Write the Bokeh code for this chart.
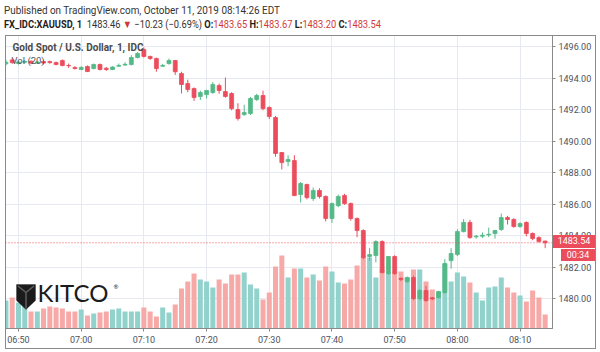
from bokeh.plotting import figure
from bokeh.layouts import column
from bokeh.models import (Range1d, FixedTicker, NumeralTickFormatter, Span, Label, Div,
                          PolyAnnotation, ColumnDataSource)
from bokeh.embed import file_html
from bokeh.resources import INLINE

# ---------------- data (1-minute candles, 06:48 .. 08:14) ----------------
start_minute = 6 * 60 + 48

open_ = [1494.90, 1495.15, 1494.92, 1495.00, 1495.06, 1494.95, 1495.05, 1495.05, 1494.98, 1495.11,
         1494.80, 1494.67, 1494.54, 1494.73, 1494.60, 1494.86, 1494.62, 1494.54, 1494.75, 1494.82,
         1494.86, 1495.30, 1495.81, 1495.37, 1495.24, 1494.75, 1494.92, 1495.11, 1494.29, 1493.65,
         1493.33, 1492.83, 1492.95, 1493.08, 1493.52, 1493.14, 1493.02, 1492.00, 1491.68, 1491.75,
         1492.63, 1492.89, 1492.13, 1491.49, 1489.27, 1488.70, 1488.76, 1486.60, 1487.24, 1486.35,
         1486.86, 1486.48, 1485.08, 1485.90, 1486.54, 1486.03, 1485.08, 1484.32, 1482.67, 1482.73,
         1483.62, 1481.59, 1482.67, 1481.28, 1481.08, 1481.33, 1480.00, 1480.51, 1480.05, 1480.06,
         1480.38, 1482.41, 1482.79, 1484.25, 1484.83, 1483.92, 1483.96, 1484.04, 1484.13, 1484.38,
         1485.14, 1485.02, 1484.57, 1484.83, 1484.13, 1483.87, 1483.65]
high = [1495.15, 1495.25, 1495.08, 1495.12, 1495.12, 1495.08, 1495.12, 1495.10, 1495.05, 1495.18,
        1494.92, 1494.75, 1494.75, 1494.80, 1494.92, 1494.92, 1494.70, 1494.75, 1494.92, 1495.00,
        1495.45, 1495.65, 1495.95, 1495.42, 1495.30, 1494.90, 1495.24, 1495.15, 1494.40, 1493.90,
        1493.40, 1493.20, 1493.25, 1493.75, 1493.65, 1494.03, 1493.10, 1492.40, 1492.30, 1492.80,
        1493.00, 1493.20, 1492.20, 1491.60, 1489.30, 1489.10, 1489.10, 1487.40, 1487.30, 1487.05,
        1487.00, 1486.55, 1486.10, 1486.60, 1486.65, 1486.10, 1485.15, 1484.40, 1483.20, 1483.70,
        1483.70, 1482.70, 1482.75, 1481.35, 1481.40, 1481.45, 1480.60, 1480.80, 1480.10, 1480.50,
        1482.50, 1483.20, 1484.40, 1485.05, 1485.00, 1484.05, 1484.20, 1484.50, 1484.35, 1485.40,
        1485.25, 1485.10, 1484.85, 1484.90, 1484.20, 1483.95, 1483.67]
low = [1494.80, 1494.90, 1494.85, 1494.92, 1494.88, 1494.90, 1494.86, 1494.90, 1494.80, 1494.75,
       1494.65, 1494.55, 1494.50, 1494.38, 1494.55, 1494.48, 1494.45, 1494.50, 1494.70, 1494.78,
       1494.80, 1495.25, 1495.30, 1495.15, 1494.40, 1494.70, 1494.85, 1494.20, 1493.02, 1493.10,
       1492.55, 1492.60, 1492.70, 1493.00, 1493.00, 1492.75, 1491.95, 1491.30, 1491.60, 1491.65,
       1492.55, 1491.95, 1491.40, 1489.00, 1488.20, 1488.40, 1486.50, 1486.10, 1486.30, 1486.20,
       1486.35, 1484.90, 1484.80, 1485.80, 1485.95, 1484.95, 1483.90, 1482.50, 1482.40, 1482.30,
       1481.60, 1481.50, 1481.50, 1481.10, 1481.00, 1479.90, 1479.90, 1479.80, 1479.90, 1480.00,
       1480.30, 1481.90, 1482.70, 1484.20, 1483.80, 1483.80, 1483.85, 1483.90, 1483.80, 1484.30,
       1484.70, 1484.50, 1484.50, 1483.95, 1483.70, 1483.55, 1483.20]
close = [1495.00, 1494.98, 1495.02, 1495.06, 1494.95, 1495.02, 1494.95, 1494.98, 1494.86, 1494.79,
         1494.78, 1494.60, 1494.67, 1494.41, 1494.86, 1494.54, 1494.54, 1494.70, 1494.80, 1494.87,
         1495.30, 1495.56, 1495.37, 1495.24, 1494.60, 1494.80, 1495.11, 1494.40, 1493.59, 1493.27,
         1492.76, 1493.08, 1493.21, 1493.59, 1493.21, 1492.83, 1492.06, 1491.43, 1491.81, 1492.70,
         1492.89, 1492.06, 1491.56, 1489.21, 1488.63, 1488.83, 1486.54, 1487.30, 1486.41, 1486.86,
         1486.48, 1485.08, 1486.03, 1486.48, 1486.03, 1485.08, 1484.32, 1482.60, 1482.79, 1483.62,
         1481.65, 1482.67, 1481.59, 1481.21, 1481.33, 1480.00, 1480.51, 1479.87, 1479.98, 1480.44,
         1482.22, 1482.86, 1484.25, 1484.83, 1483.87, 1483.96, 1484.02, 1484.08, 1484.32, 1485.14,
         1485.02, 1484.57, 1484.76, 1484.13, 1483.81, 1483.62, 1483.54]
volume = [140, 155, 130, 115, 85, 85, 100, 110, 105, 100,
          85, 85, 95, 65, 75, 80, 85, 95, 100, 85,
          85, 85, 105, 85, 60, 105, 80, 120, 200, 235,
          275, 245, 235, 205, 245, 225, 270, 270, 280, 220,
          200, 145, 180, 310, 365, 255, 300, 300, 255, 270,
          240, 310, 285, 230, 225, 245, 315, 360, 355, 255,
          295, 280, 280, 285, 255, 295, 295, 235, 195, 185,
          325, 235, 280, 260, 230, 180, 140, 205, 210, 255,
          205, 180, 165, 135, 190, 155, 70]

price_ticks = [1480, 1482, 1484, 1486, 1488, 1490, 1492, 1494, 1496]
time_ticks = [410, 420, 430, 440, 450, 460, 470, 480, 490]
time_labels = ["06:50", "07:00", "07:10", "07:20", "07:30", "07:40", "07:50", "08:00", "08:10"]
last_price_text = "1483.54"
countdown_text = "00:34"

# ---------------- styling ----------------
UP, DOWN = "#53b987", "#eb4d5c"
VUP, VDOWN = "#92d2cc", "#f7a9a7"
FONT = "Roboto"
HDR_H = 34                          # header strip height (page px)
FL, FR, FT, FB = 5, 552, 35, 328    # pane edges in page pixels

minute = [start_minute + i for i in range(len(close))]
is_up = [c >= o for o, c in zip(open_, close)]
src = ColumnDataSource(dict(
    x=minute, high=high, low=low, volume=volume,
    top=[max(o, c) for o, c in zip(open_, close)],
    bottom=[min(o, c) for o, c in zip(open_, close)],
    color=[UP if u else DOWN for u in is_up],
    vcolor=[VUP if u else VDOWN for u in is_up],
))

p = figure(width=600, height=352 - HDR_H, output_backend="svg", toolbar_location=None,
           y_axis_location="right",
           x_range=Range1d(407.93, 495.17), y_range=Range1d(1478.10, 1496.70),
           min_border_left=FL, min_border_right=600 - FR, min_border_top=FT - HDR_H,
           min_border_bottom=352 - FB)
p.extra_y_ranges = {"vol": Range1d(0, 1465)}
p.background_fill_color = "white"
p.border_fill_color = "white"
p.outline_line_color = "#8a8a8a"

p.vbar(x="x", top="volume", bottom=0, width=0.8, fill_color="vcolor", line_color=None,
       y_range_name="vol", source=src)
p.segment(x0="x", y0="high", x1="x", y1="low", line_color="color", line_width=1, source=src)
p.vbar(x="x", top="top", bottom="bottom", width=0.62, fill_color="color", line_color="color",
       line_width=0.8, source=src)

p.add_layout(Span(location=close[-1], dimension="width", line_color="#eb4d5c",
                  line_dash="1 2", line_width=1))

# axes
xa = p.xaxis[0]
xa.ticker = FixedTicker(ticks=time_ticks)
xa.major_label_overrides = {t: l for t, l in zip(time_ticks, time_labels)}
ya = p.yaxis[0]
ya.ticker = FixedTicker(ticks=price_ticks)
ya.formatter = NumeralTickFormatter(format="0.00")
for ax in (xa, ya):
    ax.axis_line_color = "#8a8a8a"
    ax.major_tick_line_color = "#8a8a8a"
    ax.major_tick_out = 3
    ax.major_tick_in = 0
    ax.minor_tick_line_color = None
    ax.major_label_text_font = FONT
    ax.major_label_text_font_size = "9px"
    ax.major_label_text_color = "#4c525e"
    ax.major_label_standoff = 3
p.xgrid.ticker = FixedTicker(ticks=time_ticks)
p.xgrid.grid_line_color = "#e6e9ef"
p.ygrid.grid_line_color = "#e6e9ef"


def lab(X, Y, text, size, color, bold=False, font=FONT, align="left"):
    # X, Y in page pixels; screen units are measured from the pane's bottom-left corner
    p.add_layout(Label(x=X - FL, y=FB - Y, x_units="screen", y_units="screen", text=text,
                       text_font=font, text_font_size=f"{size}px", text_color=color,
                       text_font_style="bold" if bold else "normal",
                       text_align=align, text_baseline="middle"))


# legend texts inside the pane
lab(12, 47, "Gold Spot / U.S. Dollar, 1, IDC", 10, "#4a4a4a", bold=True)
lab(11, 60, "Vol (20)", 9.5, "#555555")

# KITCO watermark logo
logo_x = [16, 35, 35, 25.5, 16]
logo_y = [284, 284, 300, 309, 300]
p.add_layout(PolyAnnotation(xs=[v - FL for v in logo_x], ys=[FB - v for v in logo_y],
                            xs_units="screen", ys_units="screen", fill_color="#1b1b1b",
                            fill_alpha=1, line_color="#1b1b1b"))
yx = [17.5, 25.5, 33.5, 25.5, 25.5, 25.5]
yy = [285.5, 292, 285.5, 292, 308, 292]
p.add_layout(PolyAnnotation(xs=[v - FL for v in yx], ys=[FB - v for v in yy],
                            xs_units="screen", ys_units="screen", fill_alpha=0,
                            line_color="white", line_width=1.5))
lab(37, 292, "KITCO", 24, "#1b1b1b", font="Lato")
lab(113, 286, "\u00ae", 6, "#1b1b1b", font="Lato")

# ---------------- header strip + price-scale tags (HTML overlay) ----------------
RED = "#cf3b3b"
DARK = "#1e1e1e"
GREY = "#333333"


def span(text, color, bold=False):
    w = "bold" if bold else "normal"
    return f'<span style="color:{color};font-weight:{w};">{text}</span>'


def line(left, top, inner, sx, size=11):
    return (f'<div style="position:absolute;left:{left}px;top:{top}px;white-space:nowrap;'
            f'font-family:Roboto;font-size:{size}px;line-height:{size + 2}px;'
            f'transform:scaleX({sx});transform-origin:0 0;">{inner}</div>')


line2 = (span("FX_IDC:XAUUSD, 1", DARK, True) + "&nbsp; "
         + span("1483.46", GREY) + " "
         + span("\u25bc", RED) + " "
         + span("\u221210.23 (\u22120.69%)", GREY) + " "
         + span("O:", DARK, True) + span("1483.65", RED) + " "
         + span("H:", DARK, True) + span("1483.67", RED) + " "
         + span("L:", DARK, True) + span("1483.20", RED) + " "
         + span("C:", DARK, True) + span("1483.54", RED))

parts = [
    line(4, 4, span("Published on TradingView.com, October 11, 2019 08:14:26 EDT", GREY), 0.90),
    line(4, 18, line2, 0.845),
    # outer border around pane and scales
    '<div style="position:absolute;left:5px;top:35px;width:591px;height:314px;'
    'box-sizing:border-box;border:1px solid #8a8a8a;pointer-events:none;z-index:5;"></div>',
    # last price tag and countdown tag on the price scale
    f'<div style="position:absolute;left:553px;top:235px;width:42px;height:13px;'
    f'background:#eb4d5c;color:white;font-family:Roboto;font-size:9px;line-height:13px;'
    f'text-align:center;z-index:6;">{last_price_text}</div>',
    f'<div style="position:absolute;left:561px;top:249px;width:34px;height:12px;'
    f'background:#eb4d5c;color:white;font-family:Roboto;font-size:9px;line-height:12px;'
    f'text-align:center;z-index:6;">{countdown_text}</div>',
]
html = ('<div style="position:relative;width:600px;height:%dpx;overflow:visible;">' % HDR_H
        + "".join(parts) + "</div>")
hdr = Div(text=html, width=600, height=HDR_H, margin=(0, 0, 0, 0),
          styles={"overflow": "visible", "z-index": "10", "position": "relative"})

layout = column(hdr, p, spacing=0, margin=(0, 0, 0, 0))
open("out.html", "w").write(file_html(layout, INLINE))
